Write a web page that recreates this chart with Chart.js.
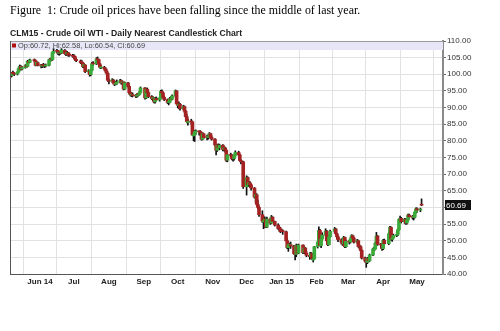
<!DOCTYPE html>
<html><head><meta charset="utf-8">
<script src="https://cdn.jsdelivr.net/npm/chart.js@4.4.0/dist/chart.umd.min.js"></script>
<style>
html,body{margin:0;padding:0;background:#fff;}
#wrap{position:relative;width:500px;height:331px;overflow:hidden;background:#fff;}
canvas{position:absolute;left:0;top:0;}
#cap{position:absolute;left:10px;top:3px;font:12px "Liberation Serif",serif;color:#000;white-space:nowrap;transform-origin:0 0;}
#ttl{position:absolute;left:10px;top:28px;font:bold 9px "Liberation Sans",Arial,sans-serif;color:#222;white-space:nowrap;transform-origin:0 0;}
</style></head>
<body>
<div id="wrap">
<canvas id="c" width="500" height="331"></canvas>
<div id="cap">Figure&nbsp; 1: Crude oil prices have been falling since the middle of last year.</div>
<div id="ttl">CLM15 - Crude Oil WTI - Daily Nearest Candlestick Chart</div>
</div>
<script>
// ---- data, one value per trading day ----
const firstDay = '2014-05-06';
const lastDay = '2015-05-05';
const holidays = ['2014-05-26','2014-07-04','2014-09-01','2014-11-27','2014-12-25','2015-01-01','2015-01-19','2015-02-16','2015-04-03'];

const opens = [
/*May*/ 99.7,99.6,100.4,100.2,100.1,100.7,101.8,102.3,101.6,102.0,102.5,102.4,103.9,103.6,104.3,104.1,102.8,103.5,
/*Jun*/ 102.7,102.4,102.7,102.6,102.5,102.7,104.2,104.6,104.4,106.5,107.0,106.9,106.3,106.6,106.4,107.2,106.2,106.0,106.5,105.8,105.7,
/*Jul*/ 105.4,105.3,104.5,104.0,103.5,103.4,102.3,102.8,100.8,100.9,99.9,101.2,103.2,103.1,104.6,104.4,103.1,101.9,102.1,101.7,101.0,100.3,
/*Aug*/ 98.2,97.9,98.3,97.4,97.0,97.3,97.7,98.1,97.4,97.6,95.6,97.4,96.4,94.5,93.7,93.9,93.6,93.4,94.1,93.9,94.5,
/*Sep*/ 95.9,92.9,95.5,94.5,93.3,92.7,92.8,91.7,92.8,92.3,92.9,94.9,94.4,93.1,92.4,91.5,91.6,92.8,92.5,93.5,95.0,
/*Oct*/ 91.2,90.7,91.0,89.7,90.3,88.9,87.3,85.5,85.8,85.7,81.5,81.8,82.7,82.8,82.7,82.5,80.5,82.1,81.2,81.0,81.4,82.2,81.1,
/*Nov*/ 80.5,78.8,77.2,78.7,77.9,78.7,77.4,77.9,77.2,74.2,75.8,75.6,74.9,74.6,75.6,76.5,75.8,74.1,73.7,
/*Dec*/ 66.2,69.0,66.9,67.4,66.8,65.8,63.1,63.8,60.9,60.0,57.8,55.6,55.9,56.5,54.1,56.5,55.3,57.1,55.8,54.7,53.9,53.6,
/*Jan*/ 53.0,52.7,50.0,47.9,48.7,48.8,48.4,46.1,45.9,48.5,46.3,48.7,46.4,47.8,46.3,45.6,45.2,46.2,44.2,44.5,
/*Feb*/ 48.2,49.6,53.1,48.5,50.5,51.7,52.9,50.0,48.8,51.2,52.8,53.5,52.1,51.2,50.3,49.5,49.0,51.0,48.2,
/*Mar*/ 49.8,49.6,50.5,51.5,50.8,49.6,50.0,48.3,48.2,47.1,44.8,43.9,43.5,44.7,44.0,45.7,47.3,47.5,49.2,51.4,48.9,48.7,
/*Apr*/ 47.6,50.1,49.1,52.1,54.0,50.4,50.8,51.6,51.9,53.3,56.4,56.7,55.7,56.4,55.3,56.2,57.7,57.2,57.0,57.1,58.6,
/*May*/ 59.6,59.2,60.72
];
const highs = [
/*May*/ 100.2,100.6,101.0,100.6,100.9,102.0,102.8,102.6,102.3,102.9,102.9,104.2,104.3,104.6,104.6,104.3,103.8,103.7,
/*Jun*/ 103.0,103.0,103.3,103.0,103.1,104.6,104.8,105.0,106.8,107.7,107.5,107.1,106.9,107.1,107.7,107.4,106.8,106.9,106.6,106.3,106.0,
/*Jul*/ 105.9,105.4,104.7,104.3,104.1,103.6,103.2,103.0,101.4,101.0,101.5,103.6,103.8,105.0,105.2,104.5,103.3,102.6,102.4,102.0,101.4,100.5,
/*Aug*/ 98.6,98.7,98.5,97.8,97.9,98.3,98.5,98.3,98.0,97.7,97.7,97.6,96.6,94.9,94.5,94.4,94.0,94.2,94.3,94.9,96.2,
/*Sep*/ 96.0,95.8,95.9,94.9,93.6,93.3,93.0,93.1,93.2,93.2,95.2,95.3,94.6,93.4,92.6,92.1,93.1,93.4,93.8,95.3,95.1,
/*Oct*/ 91.5,91.7,91.3,90.7,90.5,89.2,88.0,86.6,86.5,85.9,82.9,83.2,83.3,83.0,83.1,82.6,82.4,82.3,81.7,81.8,82.5,82.3,81.6,
/*Nov*/ 80.7,78.9,79.0,79.1,79.0,78.9,78.2,78.1,77.4,76.0,76.3,75.9,75.2,75.9,77.0,76.9,76.0,74.4,73.9,
/*Dec*/ 69.5,69.2,67.7,67.8,67.0,66.0,64.3,64.1,62.2,60.3,59.0,56.8,57.2,56.8,57.1,56.8,57.6,57.2,55.9,55.1,54.4,54.0,
/*Jan*/ 53.3,52.9,50.8,49.0,49.3,49.6,48.6,47.2,49.0,48.8,49.0,48.8,48.2,48.0,46.8,46.4,46.5,46.3,44.9,48.3,
/*Feb*/ 50.0,54.2,53.4,51.0,52.4,53.6,53.1,50.6,51.6,53.2,54.0,53.7,52.3,51.5,50.6,49.9,51.3,51.1,50.2,
/*Mar*/ 50.1,50.9,51.8,51.7,51.0,50.4,50.2,48.7,48.5,47.3,45.1,44.2,45.0,45.0,46.0,47.8,48.0,49.5,52.5,51.6,49.2,49.0,
/*Apr*/ 50.4,50.5,52.6,54.3,54.2,51.4,52.0,52.5,53.6,56.6,57.4,57.0,56.7,56.6,56.5,58.0,58.0,57.6,57.4,58.9,59.9,
/*May*/ 59.9,59.8,62.58
];
const lows = [
/*May*/ 99.0,99.3,99.8,99.6,99.8,100.5,101.4,101.2,101.3,101.8,102.0,102.2,103.3,103.5,103.7,102.5,102.6,102.5,
/*Jun*/ 101.9,102.0,102.2,102.0,102.2,102.5,104.0,104.0,104.2,106.2,106.4,105.9,105.7,106.0,106.2,106.0,105.6,105.8,105.4,105.4,105.1,
/*Jul*/ 104.8,104.1,103.8,103.2,102.9,102.0,101.9,100.5,100.3,99.4,99.6,101.0,102.6,102.9,103.9,102.8,101.8,101.7,101.3,100.6,99.9,97.9,
/*Aug*/ 97.1,97.6,97.1,96.6,96.8,97.0,97.4,97.0,97.1,95.3,95.4,96.1,94.1,93.5,93.3,93.2,93.0,93.1,93.4,93.7,94.3,
/*Sep*/ 92.5,92.7,94.1,93.0,92.4,92.1,91.4,91.3,92.0,91.9,92.6,94.0,92.8,92.1,91.2,90.8,91.4,92.2,92.3,93.3,90.9,
/*Oct*/ 89.9,89.6,89.2,89.4,88.5,87.0,85.4,84.7,84.9,81.6,80.0,79.8,81.9,81.7,81.9,80.2,80.3,80.7,80.3,80.5,81.1,80.7,80.2,
/*Nov*/ 78.5,75.8,76.8,77.5,77.3,77.0,77.0,76.6,73.8,73.7,75.0,74.3,73.9,74.2,75.3,75.4,73.8,73.1,65.7,
/*Dec*/ 63.7,66.5,66.2,66.1,65.2,62.8,61.5,60.6,59.6,57.3,55.5,53.6,54.0,53.9,53.9,54.9,55.1,55.6,54.4,53.4,52.9,52.4,
/*Jan*/ 51.9,49.9,47.6,46.8,47.8,47.7,45.9,44.2,45.2,46.0,46.1,46.1,46.1,46.0,45.2,44.4,44.9,44.3,43.6,44.4,
/*Feb*/ 47.8,49.3,48.4,47.9,50.1,51.4,49.7,48.5,48.7,51.0,52.4,51.8,50.6,49.7,49.0,48.6,48.8,47.9,48.0,
/*Mar*/ 49.0,49.3,50.2,50.4,49.3,49.2,48.0,47.6,46.9,44.5,43.6,42.0,43.1,43.6,43.8,45.5,46.9,47.2,49.0,48.6,47.8,47.1,
/*Apr*/ 47.3,48.8,48.8,51.8,50.1,49.8,50.5,51.2,51.5,53.1,56.0,55.3,55.2,54.9,55.0,55.9,56.8,56.5,56.2,56.8,58.3,
/*May*/ 58.5,58.7,60.54
];
const closes = [
/*May*/ 99.5,100.3,100.3,100.0,100.6,101.7,102.4,101.5,102.0,102.6,102.3,103.9,103.6,104.3,104.1,102.7,103.6,102.7,
/*Jun*/ 102.5,102.7,102.6,102.5,102.7,104.4,104.4,104.4,106.5,106.9,106.9,106.4,106.6,106.4,107.3,106.2,106.0,106.5,105.8,105.7,105.4,
/*Jul*/ 105.3,104.5,104.1,103.5,103.4,102.3,102.9,100.8,100.9,99.9,101.2,103.2,103.1,104.6,104.4,103.1,102.1,102.1,101.7,101.0,100.3,98.2,
/*Aug*/ 97.9,98.3,97.4,97.0,97.3,97.7,98.1,97.4,97.6,95.6,97.4,96.4,94.5,93.9,93.9,93.6,93.4,93.9,93.9,94.5,95.9,
/*Sep*/ 92.9,95.5,94.5,93.3,92.7,92.8,91.7,92.8,92.3,92.9,94.9,94.4,93.1,92.4,91.5,91.6,92.8,92.5,93.5,95.0,91.2,
/*Oct*/ 90.7,91.0,89.7,90.3,88.9,87.3,85.8,85.8,85.7,81.8,81.8,82.7,82.8,82.7,82.5,80.5,82.1,81.0,81.0,81.4,82.2,81.1,80.5,
/*Nov*/ 78.8,77.2,78.7,77.9,78.7,77.4,77.9,77.2,74.2,75.8,75.6,74.6,74.6,75.6,76.5,75.8,74.1,73.7,66.2,
/*Dec*/ 69.0,66.9,67.4,66.8,65.8,63.1,63.8,60.9,60.0,57.8,55.9,55.9,56.5,54.1,56.5,55.3,57.1,55.8,54.7,53.6,53.6,52.7,
/*Jan*/ 52.7,50.0,47.9,48.7,48.8,48.4,46.1,45.9,48.5,46.3,48.7,46.4,47.8,46.3,45.6,45.2,46.2,44.5,44.5,48.2,
/*Feb*/ 49.6,53.1,48.5,50.5,51.7,52.9,50.0,48.8,51.2,52.8,53.5,52.1,51.2,50.3,49.5,49.0,51.0,48.2,49.8,
/*Mar*/ 49.6,50.5,51.5,50.8,49.6,50.0,48.3,48.2,47.1,44.8,43.9,43.5,44.7,44.0,45.7,47.5,47.5,49.2,51.4,48.9,48.7,47.6,
/*Apr*/ 50.1,49.1,52.1,54.0,50.4,50.8,51.6,51.9,53.3,56.4,56.7,55.7,56.4,55.3,56.2,57.7,57.2,57.0,57.1,58.6,59.6,
/*May*/ 59.2,59.4,60.69
];

const tickDates = ['2014-06-01','2014-07-01','2014-08-01','2014-09-01','2014-10-01','2014-11-01','2014-12-01','2015-01-01','2015-02-01','2015-03-01','2015-04-01','2015-05-01'];
const tickLabels = ['Jun 14','Jul','Aug','Sep','Oct','Nov','Dec','Jan 15','Feb','Mar','Apr','May'];
const priceTicks = [40,45,50,55,60,65,70,75,80,85,90,95,100,105,110];

// ---- build ----
const DAY = 86400000;
const BASE = Date.UTC(2014,5,1);
function parseIso(s){ const p = s.split('-').map(Number); return Date.UTC(p[0], p[1]-1, p[2]); }
function dayNum(s){ return (parseIso(s) - BASE) / DAY; }

const tradingDays = [];
for (let t = parseIso(firstDay); t <= parseIso(lastDay); t += DAY) {
  const dt = new Date(t); const wd = dt.getUTCDay();
  if (wd === 0 || wd === 6) continue;
  const iso = dt.toISOString().slice(0,10);
  if (holidays.includes(iso)) continue;
  tradingDays.push(iso);
}
const N = Math.min(tradingDays.length, opens.length, highs.length, lows.length, closes.length);
const xs = tradingDays.slice(0, N).map(dayNum);
const last = N - 1;

const UP = '#3aab3a', DOWN = '#a52222';

const wickData = xs.map((x,i) => ({x, y:[lows[i], highs[i]]}));
const bodyData = xs.map((x,i) => ({x, y:[opens[i], closes[i]]}));
const tickVals = tickDates.map(dayNum);

const framePlugin = {
  id: 'frame',
  beforeDatasetsDraw(chart) {
    const {ctx, chartArea: a} = chart;
    ctx.save();
    ctx.fillStyle = '#e6e6f7';
    ctx.fillRect(a.left, a.top, a.right - a.left, 9);
    ctx.restore();
  },
  afterDraw(chart) {
    const {ctx, chartArea: a, scales} = chart;
    ctx.save();
    ctx.strokeStyle = '#9a9a9a'; ctx.lineWidth = 1;
    ctx.beginPath(); ctx.moveTo(a.left, a.top + 0.5); ctx.lineTo(a.right, a.top + 0.5); ctx.stroke();
    ctx.strokeStyle = '#555';
    ctx.beginPath(); ctx.moveTo(a.left + 0.5, a.top); ctx.lineTo(a.left + 0.5, a.bottom); ctx.stroke();
    // legend band text
    ctx.fillStyle = '#b01010';
    ctx.fillRect(a.left + 2, a.top + 2.5, 4, 4);
    ctx.fillStyle = '#444';
    ctx.font = '8px "Liberation Sans", Arial, sans-serif';
    ctx.textBaseline = 'middle';
    const txt = 'Op:' + opens[last].toFixed(2) + ', Hi:' + highs[last].toFixed(2) + ', Lo:' + lows[last].toFixed(2) + ', Cl:' + closes[last].toFixed(2);
    const tw = ctx.measureText(txt).width;
    ctx.save();
    ctx.translate(a.left + 8, a.top + 5);
    ctx.scale(127 / tw, 1);
    ctx.fillText(txt, 0, 0);
    ctx.restore();
    // last price box
    const y = Math.round(scales.y.getPixelForValue(closes[last]));
    ctx.fillStyle = '#111';
    ctx.fillRect(a.right + 2, y - 5, 26, 10);
    ctx.fillStyle = '#fff';
    ctx.font = '8px "Liberation Sans", Arial, sans-serif';
    ctx.fillText(closes[last].toFixed(2), a.right + 3, y + 0.5);
    ctx.restore();
  }
};

new Chart(document.getElementById('c'), {
  type: 'bar',
  data: {
    datasets: [
      { label: 'body', data: bodyData, grouped: false, order: 1, barThickness: 3, minBarLength: 1,
        backgroundColor: c => (closes[c.dataIndex] >= opens[c.dataIndex] ? UP : DOWN), borderWidth: 0 },
      { label: 'wick', data: wickData, grouped: false, order: 2, barThickness: 1,
        backgroundColor: '#111', borderWidth: 0 }
    ]
  },
  options: {
    responsive: false, animation: false, devicePixelRatio: 1,
    layout: { padding: { top: 41, left: 10, right: 0, bottom: 0 } },
    plugins: { legend: { display: false }, tooltip: { enabled: false }, title: { display: false } },
    scales: {
      x: {
        type: 'linear', min: -26.6, max: 357, offset: false,
        afterBuildTicks: s => { s.ticks = tickVals.map(v => ({ value: v })); },
        afterFit: s => { s.height = 57; },
        ticks: { autoSkip: false, maxRotation: 0, padding: 3, color: '#222',
          font: { family: 'Liberation Sans', size: 8, weight: 'bold' },
          callback: v => { const k = tickVals.indexOf(v); return k >= 0 ? tickLabels[k] : ''; } },
        grid: { color: '#e2e2e2', drawTicks: false },
        border: { color: '#555', width: 1 }
      },
      y: {
        position: 'right', min: 40, max: 110,
        afterBuildTicks: s => { s.ticks = priceTicks.map(v => ({ value: v })); },
        afterFit: s => { s.width = 57; },
        ticks: { padding: 1, color: '#333', font: { family: 'Liberation Sans', size: 8 },
          callback: v => Number(v).toFixed(2) },
        grid: { color: '#e2e2e2', tickLength: 3, tickColor: '#666' },
        border: { color: '#8a8a8a', width: 2 }
      }
    }
  },
  plugins: [framePlugin]
});

function fitWidth(id, w) { const el = document.getElementById(id); const ow = el.offsetWidth; if (ow > 0) el.style.transform = 'scaleX(' + (w / ow) + ')'; }
fitWidth('cap', 350);
fitWidth('ttl', 232);
</script>
</body></html>
